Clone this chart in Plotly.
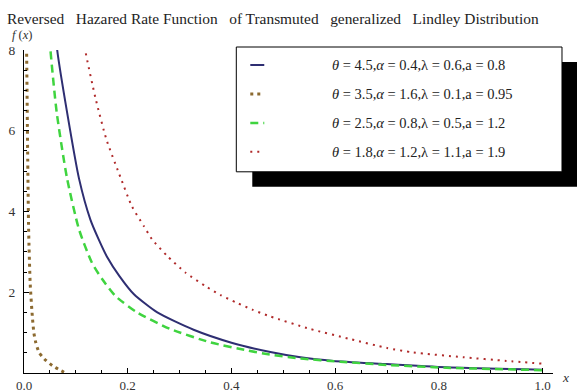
import plotly.graph_objects as go

# ---- data ----
title_text = "Reversed  Hazared Rate Function  of Transmuted  generalized  Lindley Distribution"

s1_name = "<i>θ</i> = 4.5,<i>α</i> = 0.4,λ = 0.6,a = 0.8"
s1_x = [0.060, 0.064, 0.083, 0.106, 0.128, 0.144, 0.160, 0.184, 0.212, 0.257, 0.327, 0.400, 0.475, 0.533, 0.597, 0.687, 0.815, 1.0]
s1_y = [8.6, 8.0, 6.46, 4.82, 3.80, 3.31, 2.88, 2.40, 1.95, 1.50, 1.07, 0.75, 0.52, 0.39, 0.30, 0.23, 0.14, 0.08]

s2_name = "<i>θ</i> = 3.5,<i>α</i> = 1.6,λ = 0.1,a = 0.95"
s2_x = [0.004, 0.005, 0.007, 0.009, 0.012, 0.016, 0.019, 0.0226, 0.029, 0.039, 0.055, 0.071, 0.080]
s2_y = [8.6, 8.0, 5.5, 3.5, 2.2, 1.41, 1.0, 0.76, 0.51, 0.35, 0.18, 0.06, 0.0]

s3_name = "<i>θ</i> = 2.5,<i>α</i> = 0.8,λ = 0.5,a = 1.2"
s3_x = [0.048, 0.051, 0.063, 0.083, 0.106, 0.131, 0.151, 0.176, 0.218, 0.282, 0.359, 0.430, 0.468, 0.533, 0.610, 0.700, 0.815, 1.0]
s3_y = [8.6, 8.0, 6.46, 4.82, 3.56, 2.73, 2.32, 1.91, 1.50, 1.09, 0.76, 0.56, 0.47, 0.36, 0.28, 0.20, 0.13, 0.07]

s4_name = "<i>θ</i> = 1.8,<i>α</i> = 1.2,λ = 1.1,a = 1.9"
s4_x = [0.112, 0.118, 0.138, 0.159, 0.183, 0.208, 0.231, 0.247, 0.276, 0.311, 0.350, 0.379, 0.410, 0.440, 0.475, 0.552, 0.629, 0.700, 0.750, 0.847, 0.930, 1.0]
s4_y = [8.6, 8.0, 6.8, 5.78, 4.95, 4.13, 3.64, 3.31, 2.90, 2.49, 2.15, 1.93, 1.74, 1.57, 1.40, 1.09, 0.84, 0.62, 0.51, 0.39, 0.30, 0.23]

x_ticks = [0.0, 0.2, 0.4, 0.6, 0.8, 1.0]
x_tick_labels = ["0.0", "0.2", "0.4", "0.6", "0.8", "1.0"]
y_ticks = [2, 4, 6, 8]
y_tick_labels = ["2", "4", "6", "8"]

# ---- styles ----
W, H = 577, 392
L, R, T, B = 23.5, 24, 50, 18.5
PW = W - L - R
PH = H - T - B
FONT = "Liberation Serif, Times New Roman, serif"

def px(xp):
    return (xp - L) / PW

def py(yp):
    return (H - B - yp) / PH

series = [
    (s1_name, s1_x, s1_y, dict(color="#2e2e72", width=2, dash="solid")),
    (s2_name, s2_x, s2_y, dict(color="#8c6a30", width=3, dash="3px,4px")),
    (s3_name, s3_x, s3_y, dict(color="#3fd43f", width=2.5, dash="8px,5px")),
    (s4_name, s4_x, s4_y, dict(color="#b02a2a", width=2, dash="2px,5px")),
]

fig = go.Figure()
for name, xs, ys, ln in series:
    fig.add_trace(go.Scatter(x=xs, y=ys, mode="lines", name=name,
                             line=dict(shape="spline", smoothing=0.6, **ln),
                             showlegend=False, hoverinfo="skip"))

fig.update_layout(
    width=W, height=H,
    margin=dict(l=L, r=R, t=T, b=B, pad=0, autoexpand=False),
    paper_bgcolor="white", plot_bgcolor="white",
    font=dict(family=FONT, size=13, color="#333333"),
    xaxis=dict(range=[0, 1.02], tickvals=x_ticks, ticktext=x_tick_labels, automargin=False,
               showgrid=False, zeroline=False, showline=True, linecolor="black", linewidth=1,
               ticks="inside", ticklen=5, tickcolor="black", tickwidth=1, ticklabelstandoff=0,
               minor=dict(dtick=0.05, tick0=0, ticks="inside", ticklen=3, tickcolor="black", showgrid=False),
               tickfont=dict(family=FONT, size=13, color="#333333")),
    yaxis=dict(range=[0, 8], tickvals=y_ticks, ticktext=y_tick_labels, automargin=False,
               showgrid=False, zeroline=False, showline=True, linecolor="black", linewidth=1,
               ticks="inside", ticklen=5, tickcolor="black", tickwidth=1, ticklabelstandoff=5,
               minor=dict(dtick=0.5, tick0=0, ticks="inside", ticklen=3, tickcolor="black", showgrid=False),
               tickfont=dict(family=FONT, size=13.5, color="#333333")),
)

# title
fig.add_annotation(text=title_text.replace("  ", "&nbsp;&nbsp; "), xref="paper", yref="paper",
                   x=px(4), y=py(18), xanchor="left", yanchor="middle", showarrow=False,
                   font=dict(family=FONT, size=15.4, color="#222222"))
# axis labels
fig.add_annotation(text="<i>f</i> (<i>x</i>)", xref="paper", yref="paper",
                   x=px(22), y=py(35), xanchor="center", yanchor="middle", showarrow=False,
                   font=dict(family=FONT, size=12.5, color="#333333"))
fig.add_annotation(text="<i>x</i>", xref="paper", yref="paper",
                   x=px(566), y=py(378), xanchor="center", yanchor="middle", showarrow=False,
                   font=dict(family=FONT, size=13.5, color="#333333"))

# legend box with shadow
fig.add_shape(type="rect", xref="paper", yref="paper",
              x0=px(252), x1=px(580), y0=py(187), y1=py(62),
              fillcolor="black", line=dict(width=0), layer="above")
fig.add_shape(type="rect", xref="paper", yref="paper",
              x0=px(236), x1=px(562), y0=py(172), y1=py(47),
              fillcolor="white", line=dict(color="black", width=1), layer="above")
rows = [65, 94, 123, 152]
for (name, xs, ys, ln), ry in zip(series, rows):
    fig.add_shape(type="line", xref="paper", yref="paper",
                  x0=px(250), x1=px(264), y0=py(ry), y1=py(ry),
                  line=dict(color=ln["color"], width=ln["width"], dash=ln["dash"]), layer="above")
    fig.add_annotation(text=name, xref="paper", yref="paper",
                       x=px(330), y=py(ry), xanchor="left", yanchor="middle", showarrow=False,
                       font=dict(family=FONT, size=14.5, color="#222222"))

fig.write_html("out.html")
